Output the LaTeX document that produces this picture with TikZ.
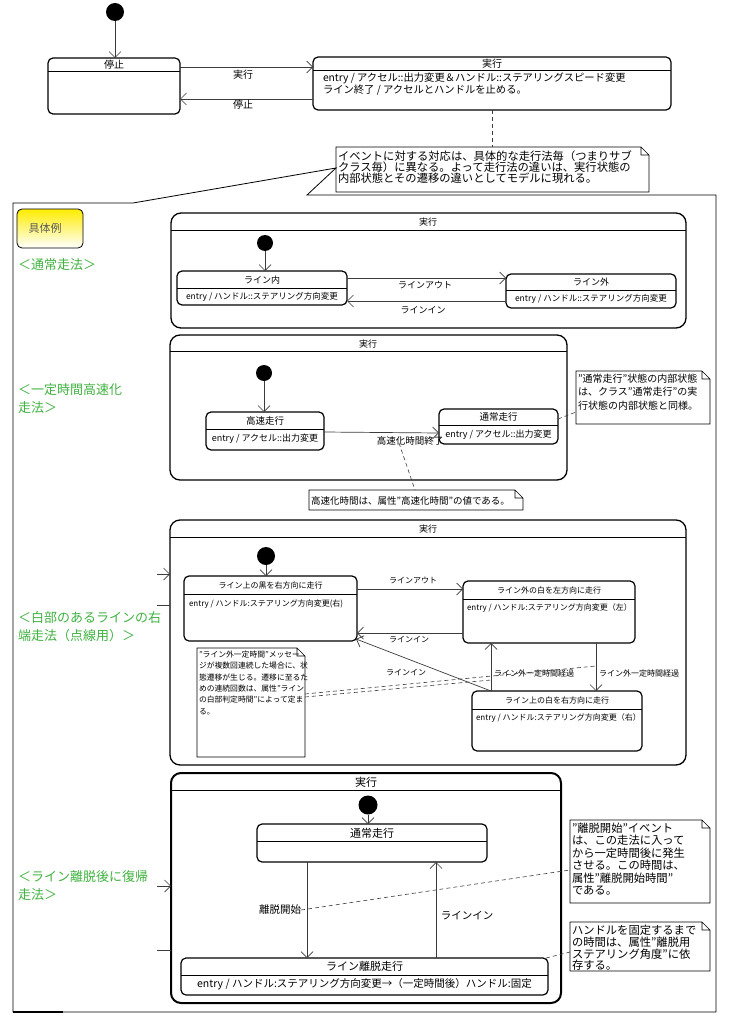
\documentclass[tikz,border=0pt]{standalone}
\usepackage{fontspec}
\setmainfont{Noto Sans CJK JP}
\usetikzlibrary{arrows.meta}
\definecolor{lbl}{RGB}{64,178,64}
\definecolor{ln}{RGB}{60,60,60}
\definecolor{ylw}{RGB}{255,236,0}
\newcommand{\mkbox}[6]{\node[#1, minimum width={(#5-#3)*1pt}, minimum height={(#6-#4)*1pt}] (#2) at ({(#3+#5)/2},{(#4+#6)/2}) {};}
\newcommand{\hsep}[2]{\draw[sepline] (#1.west |- 0,#2) -- (#1.east |- 0,#2);}
\newcommand{\fs}[2]{\fontsize{#1}{#2}\selectfont}
\newcommand{\dogear}[1]{\draw[line width=0.6pt] (#1.north west) -- ([xshift=-8pt]#1.north east) -- ([yshift=-8pt]#1.north east) -- (#1.south east) -- (#1.south west) -- cycle ([xshift=-8pt]#1.north east) -- ([xshift=-8pt,yshift=-8pt]#1.north east) -- ([yshift=-8pt]#1.north east);}
\tikzset{
 stbox/.style={draw=black, line width=1.2pt, rounded corners=5pt, inner sep=0pt, outer sep=0pt},
 panel/.style={draw=black, line width=1.3pt, rounded corners=10pt, inner sep=0pt, outer sep=0pt},
 notebox/.style={draw=none, inner sep=0pt, outer sep=0pt},
 sepline/.style={draw=black, line width=0.6pt},
 tr/.style={draw=ln, line width=0.7pt, -{Straight Barb[length=6pt,width=12pt,line width=0.7pt]}},
 anno/.style={draw=ln, line width=0.6pt, dash pattern=on 4pt off 3pt},
 dotnode/.style={circle, fill=black, inner sep=0pt, minimum size=16pt},
 t/.style={inner sep=0pt, outer sep=0pt},
 glabel/.style={inner sep=0pt, outer sep=0pt, anchor=north west, align=left, text=lbl, font=\fs{13}{18}},
}
\begin{document}
\begin{tikzpicture}[x=1pt,y=-1pt]
\useasboundingbox[fill=white] (0,0) rectangle (730,1019);

% ---------- top level ----------
\node[dotnode, minimum size=18pt] (i0) at (115,12) {};
\mkbox{stbox}{stop}{48}{58}{180}{114}
\hsep{stop}{71}
\node[t, font=\fs{10}{12}] (stopT) at (114,64.5) {停止};
\mkbox{stbox}{run}{313}{57}{671}{110}
\hsep{run}{70}
\node[t, font=\fs{10}{12}] (runT) at (492,63.5) {実行};
\node[t, font=\fs{10.3}{10.5}, anchor=north west, align=left] (runB) at (323,73) {entry / アクセル::出力変更＆ハンドル::ステアリングスピード変更\\ライン終了 / アクセルとハンドルを止める。};
\draw[tr] (i0) -- (stop.north -| i0);
\draw[tr] (stop.east |- 0,67) -- (run.west |- 0,67);
\node[t, font=\fs{10}{12}] (lb1) at (243,75) {実行};
\draw[tr] (run.west |- 0,99) -- (stop.east |- 0,99);
\node[t, font=\fs{10}{12}] (lb2) at (243,105) {停止};

\mkbox{notebox}{n0}{336}{147}{649}{192}
\dogear{n0}
\node[t, font=\fs{11.3}{10.8}, anchor=north west, align=left] (n0T) at (338,151) {イベントに対する対応は、具体的な走行法毎（つまりサブ\\クラス毎）に異なる。よって走行法の違いは、実行状態の\\内部状態とその遷移の違いとしてモデルに現れる。};
\draw[anno] (run.south -| 492,0) -- (n0.north -| 492,0);

% ---------- frame ----------
\coordinate (fa) at (13,203);
\coordinate (fb) at (133,203);
\coordinate (fc) at (n0.west |- 0,168);
\coordinate (fd) at (307,195);
\coordinate (fe) at (716,195);
\coordinate (ff) at (716,1012);
\coordinate (fg) at (13,1012);
\draw[line width=0.8pt] (fa) -- (fb) -- (fc) -- (fd) -- (fe) -- (ff) -- (fg) -- cycle;
\draw[line width=2.5pt] (fg) -- ++(50,0);

\node[draw, line width=0.8pt, rounded corners=5pt, top color=ylw, bottom color=white, minimum width=66pt, minimum height=39pt, inner sep=0pt] (ex) at (50,228.5) {};
\node[t, font=\fs{11}{12}, text=black!65] (exT) at (45,228) {具体例};

\node[glabel] (g1) at (18,259) {＜通常走法＞};
\node[glabel] (g2) at (18,384) {＜一定時間高速化\\走法＞};
\node[glabel] (g3) at (18,612) {＜白部のあるラインの右\\端走法（点線用）＞};
\node[glabel] (g4) at (18,871) {＜ライン離脱後に復帰\\走法＞};

% ---------- panel 1 ----------
\mkbox{panel}{p1}{171}{213}{686}{328}
\hsep{p1}{230}
\node[t, font=\fs{9}{10}] (p1T) at (428,222) {実行};
\node[dotnode] (p1i) at (265,243) {};
\mkbox{stbox}{inL}{177}{271}{347}{305}
\hsep{inL}{288}
\node[t, font=\fs{9}{10}] (inLT) at (262,280) {ライン内};
\node[t, font=\fs{8.5}{10}] (inLB) at (262,296.5) {entry / ハンドル::ステアリング方向変更};
\mkbox{stbox}{outL}{506}{274}{676}{308}
\hsep{outL}{290}
\node[t, font=\fs{9}{10}] (outLT) at (591,282) {ライン外};
\node[t, font=\fs{8.5}{10}] (outLB) at (591,299) {entry / ハンドル::ステアリング方向変更};
\draw[tr] (p1i) -- (inL.north -| p1i);
\draw[tr] (inL.east |- 0,278) -- (outL.west |- 0,278);
\node[t, font=\fs{9}{10}] (l1a) at (425,285) {ラインアウト};
\draw[tr] (outL.west |- 0,301) -- (inL.east |- 0,301);
\node[t, font=\fs{9}{10}] (l1b) at (423,310) {ラインイン};

% ---------- panel 2 ----------
\mkbox{panel}{p2}{170}{335}{567}{480}
\hsep{p2}{351}
\node[t, font=\fs{9}{10}] (p2T) at (368,344) {実行};
\node[dotnode] (p2i) at (264,373) {};
\mkbox{stbox}{fast}{206}{412}{324}{450}
\hsep{fast}{429}
\node[t, font=\fs{9.5}{10}] (fastT) at (265,420.5) {高速走行};
\node[t, font=\fs{9}{10}] (fastB) at (265,439) {entry / アクセル::出力変更};
\mkbox{stbox}{norm}{439}{409}{558}{444}
\hsep{norm}{425}
\node[t, font=\fs{9.5}{10}] (normT) at (498.5,417) {通常走行};
\node[t, font=\fs{9}{10}] (normB) at (498.5,434.5) {entry / アクセル::出力変更};
\draw[tr] (p2i) -- (fast.north -| p2i);
\draw[tr] (fast.east |- 0,432) -- (norm.west |- 0,433);
\node[t, font=\fs{9.5}{10}] (l2a) at (410,441) {高速化時間終了};
\mkbox{notebox}{n2a}{309}{490}{523}{510}
\dogear{n2a}
\node[t, font=\fs{9.5}{10}, anchor=west] (n2aT) at (311,500.5) {高速化時間は、属性”高速化時間”の値である。};
\coordinate (c2a) at (399,443);
\draw[anno] (c2a) -- (n2a.north -| 415,0);
\mkbox{notebox}{n2b}{576}{371}{710}{424}
\dogear{n2b}
\node[t, font=\fs{10}{13.5}, anchor=north west, align=left] (n2bT) at (578,374) {”通常走行”状態の内部状態\\は、クラス”通常走行”の実\\行状態の内部状態と同様。};
\draw[anno] (norm.east |- 0,419) -- (n2b.west |- 0,412);

% ---------- panel 3 ----------
\mkbox{panel}{p3}{170}{520}{686}{765}
\hsep{p3}{537}
\node[t, font=\fs{9}{10}] (p3T) at (428,529) {実行};
\node[dotnode, minimum width=16pt, minimum height=18pt] (p3i) at (266,556) {};
\mkbox{stbox}{blk}{184}{576}{357}{641}
\hsep{blk}{594}
\node[t, font=\fs{8}{10}] (blkT) at (270.5,585) {ライン上の黒を右方向に走行};
\node[t, font=\fs{8}{10}, anchor=west] (blkB) at (189,604) {entry / ハンドル:ステアリング方向変更(右)};
\mkbox{stbox}{wout}{463}{581}{635}{643}
\hsep{wout}{599}
\node[t, font=\fs{8}{10}] (woutT) at (549,590) {ライン外の白を左方向に走行};
\node[t, font=\fs{8}{10}, anchor=west] (woutB) at (467,608) {entry / ハンドル:ステアリング方向変更（左）};
\mkbox{stbox}{wr}{472}{691}{642}{751}
\hsep{wr}{709}
\node[t, font=\fs{8}{10}] (wrT) at (557,700) {ライン上の白を右方向に走行};
\node[t, font=\fs{8}{10}, anchor=west] (wrB) at (476,718) {entry / ハンドル:ステアリング方向変更（右）};
\draw[tr] (p3i) -- (blk.north -| p3i);
\draw[tr] (blk.east |- 0,589) -- (wout.west |- 0,589);
\node[t, font=\fs{8}{10}] (l3a) at (413,580) {ラインアウト};
\draw[tr] (wout.west |- 0,633) -- (blk.east |- 0,633);
\node[t, font=\fs{8}{10}] (l3b) at (409,640) {ラインイン};
\draw[tr] (wr.north -| 491,0) -- ([xshift=-1pt,yshift=2pt]blk.south east);
\node[t, font=\fs{8}{10}] (l3c) at (406,673) {ラインイン};
\draw[tr] (wr.north -| 491,0) -- (wout.south -| 491,0);
\node[t, font=\fs{8}{10}, anchor=west] (l3d) at (494,673) {ライン外一定時間経過};
\draw[tr] (wout.south -| 596,0) -- (wr.north -| 596,0);
\node[t, font=\fs{8}{10}, anchor=west] (l3e) at (599,673) {ライン外一定時間経過};
\mkbox{notebox}{n3}{197}{648}{305}{757}
\dogear{n3}
\node[t, font=\fs{7.8}{11.3}, anchor=north west, align=left] (n3T) at (199,651) {”ライン外一定時間”メッセー\\ジが複数回連続した場合に、状\\態遷移が生じる。遷移に至るた\\めの連続回数は、属性”ライン\\の白部判定時間”によって定ま\\る。};
\coordinate (d3a) at (596,666);
\coordinate (d3b) at (491,680);
\draw[anno] (n3.east |- 0,694) -- (d3a);
\draw[anno] (n3.east |- 0,697) -- (d3b);
\coordinate (s3a) at (157,574);
\coordinate (s3b) at (157,605);
\draw[tr] (s3a) -- (p3.west |- s3a);
\draw[draw=ln, line width=0.7pt] (s3b) -- (p3.west |- s3b);

% ---------- panel 4 ----------
\mkbox{panel, line width=2pt}{p4}{171}{773}{561}{1003}
\hsep{p4}{790}
\node[t, font=\fs{11}{12}] (p4T) at (366,782) {実行};
\node[dotnode, minimum size=19pt] (p4i) at (368,805) {};
\mkbox{stbox}{norm4}{257}{824}{487}{862}
\hsep{norm4}{841}
\node[t, font=\fs{11}{12}] (norm4T) at (372,833) {通常走行};
\mkbox{stbox}{dep}{181}{958}{548}{995}
\hsep{dep}{975}
\node[t, font=\fs{11}{12}] (depT) at (364.5,966.5) {ライン離脱走行};
\node[t, font=\fs{10.5}{12}] (depB) at (364.5,984.5) {entry / ハンドル:ステアリング方向変更→（一定時間後）ハンドル:固定};
\draw[tr] (p4i) -- (norm4.north -| p4i);
\draw[tr] (norm4.south -| 307,0) -- (dep.north -| 307,0);
\node[t, font=\fs{10.5}{12}] (l4a) at (280,910) {離脱開始};
\draw[tr] (dep.north -| 436,0) -- (norm4.south -| 436,0);
\node[t, font=\fs{10.5}{12}] (l4b) at (467,916) {ラインイン};
\mkbox{notebox}{n4a}{570}{820}{710}{903}
\dogear{n4a}
\node[t, font=\fs{11.3}{12.4}, anchor=north west, align=left] (n4aT) at (572,823) {”離脱開始”イベント\\は、この走法に入って\\から一定時間後に発生\\させる。この時間は、\\属性”離脱開始時間”\\である。};
\mkbox{notebox}{n4b}{570}{922}{710}{971}
\dogear{n4b}
\node[t, font=\fs{11.3}{11.8}, anchor=north west, align=left] (n4bT) at (572,925) {ハンドルを固定するまで\\の時間は、属性”離脱用\\ステアリング角度”に依\\存する。};
\draw[anno] (l4a.east) -- (n4a.west |- 0,870);
\draw[anno] ([xshift=-2pt]dep.north east) -- (n4b.west |- 0,952);
\coordinate (s4a) at (157,886);
\coordinate (s4b) at (157,950);
\draw[tr] (s4a) -- (p4.west |- s4a);
\draw[draw=ln, line width=0.7pt] (s4b) -- (p4.west |- s4b);
\end{tikzpicture}
\end{document}
